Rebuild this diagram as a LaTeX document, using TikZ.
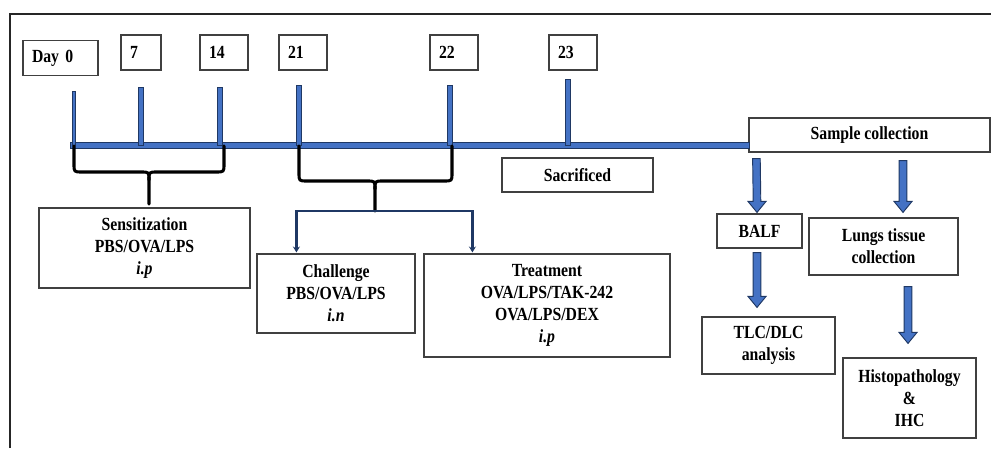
\documentclass[tikz,border=0pt]{standalone}
\usepackage{fontspec}
\setmainfont{Liberation Serif}[FakeStretch=0.85]
\usepackage{tikz}
\usetikzlibrary{arrows.meta, calc, positioning}
\definecolor{TL_Blue}{HTML}{4472C4}
\definecolor{TL_Navy}{HTML}{1F3864}
\newcommand{\pix}{0.03cm}

\begin{document}
\begin{tikzpicture}[
    x=\pix, y=-\pix,
    font=\fontsize{15.8}{18.8}\selectfont\bfseries,
    daybox/.style={
        draw=black!75,
        line width=1pt,
        minimum height=35*\pix,
        inner xsep=9*\pix,
        inner ysep=0pt,
        align=left
    },
    labbox/.style 2 args={
        draw=black!75,
        line width=1pt,
        minimum width=#1*\pix,
        minimum height=#2*\pix,
        inner sep=0pt,
        align=center
    },
    bar/.style={fill=TL_Blue, draw=TL_Navy, line width=0.8pt},
    brace/.style={draw=black, line width=2.6pt, line join=round, line cap=round},
    fork/.style={draw=TL_Navy, line width=2pt, -{Stealth[length=5pt,width=6pt]}},
    blockarr/.style={
        fill=TL_Blue, draw=TL_Navy, line width=0.8pt,
        to path={($(\tikztostart)+(-3.8,0)$) -- ($(\tikztotarget)+(-3.8,-11)$)
            -- ($(\tikztotarget)+(-9,-11)$) -- (\tikztotarget)
            -- ($(\tikztotarget)+(9,-11)$) -- ($(\tikztotarget)+(3.8,-11)$)
            -- ($(\tikztostart)+(3.8,0)$) -- cycle}
    }
]
\useasboundingbox (0,0) rectangle (991,448);

% frame
\draw[line width=1.6pt, black!85] (10,448) -- (10,14) -- (991,14);

% days
\node[daybox, text width=57*\pix] (day0) at (60.5,58) {Day 0};
\node[daybox, text width=22*\pix] (d7) at (141,52.5) {7};
\node[daybox, text width=30*\pix] (d14) at (224,52.5) {14};
\node[daybox, text width=30*\pix] (d21) at (303,52.5) {21};
\node[daybox, text width=30*\pix] (d22) at (454,52.5) {22};
\node[daybox, text width=30*\pix] (d23) at (573,52.5) {23};

% boxes
\node[labbox={241}{34}] (sample) at (869.5,135) {Sample collection};
\node[labbox={151}{34}] (sacr) at (577.5,175) {Sacrificed};
\node[labbox={211}{80}] (sens) at (144.5,248) {Sensitization\\PBS/OVA/LPS\\\textit{i.p}};
\node[labbox={158}{79}] (chal) at (336,293.5) {Challenge\\PBS/OVA/LPS\\\textit{i.n}};
\node[labbox={246}{103}] (treat) at (547,305.5) {Treatment\\OVA/LPS/TAK-242\\OVA/LPS/DEX\\\textit{i.p}};
\node[labbox={85}{34}] (balf) at (759.5,231) {BALF};
\node[labbox={149}{57}] (lungs) at (883.5,246.5) {Lungs tissue\\collection};
\node[labbox={133}{57}] (tlc) at (768.5,345.5) {TLC/DLC\\analysis};
\node[labbox={133}{80}] (histo) at (909.5,398) {Histopathology\\\&\\IHC};

% time line
\draw[bar] (70,142.5) rectangle (749,148.5);
\foreach \x/\yt/\w in {74/91/3, 141/87/5, 220/87/5, 299/85/5, 450/85/5, 568/79/5}
    \draw[bar] (\x-\w/2,\yt) rectangle (\x+\w/2,145);

% braces
\draw[brace] (74,146) -- (74,164) .. controls (74,172) .. (82,172) -- (141,172)
    .. controls (149,172) .. (149,180) -- (149,204);
\draw[brace] (224,146) -- (224,164) .. controls (224,172) .. (216,172) -- (157,172)
    .. controls (149,172) .. (149,180);
\coordinate (fk) at (375,211);
\draw[brace] (299,146) -- (299,173) .. controls (299,181) .. (307,181) -- (367,181)
    .. controls (375,181) .. (375,189) -- (fk);
\draw[brace] (452,146) -- (452,173) .. controls (452,181) .. (444,181) -- (383,181)
    .. controls (375,181) .. (375,189);

% fork to challenge / treatment
\coordinate (ch1) at ($(chal.north west)+(40,-1)$);
\coordinate (tr1) at ($(treat.north west)+(49,-1)$);
\draw[fork] (fk) -| (ch1);
\draw[fork] (fk) -| (tr1);

% sample arrows
\coordinate (a1s) at ($(sample.south west)+(8,6)$);
\coordinate (a1e) at ($(balf.north)+(-2.5,-1)$);
\coordinate (a2s) at ($(sample.south)+(33.5,8)$);
\coordinate (a2e) at ($(lungs.north)+(19.5,-5)$);
\coordinate (a3s) at ($(balf.south)+(-2.5,4)$);
\coordinate (a3e) at ($(tlc.north)+(-11.5,-9)$);
\coordinate (a4s) at ($(lungs.south)+(24.5,11)$);
\coordinate (a4e) at ($(histo.north)+(-1.5,-14)$);
\draw[blockarr] (a1s) to (a1e);
\draw[blockarr] (a2s) to (a2e);
\draw[blockarr] (a3s) to (a3e);
\draw[blockarr] (a4s) to (a4e);

\end{tikzpicture}
\end{document}
